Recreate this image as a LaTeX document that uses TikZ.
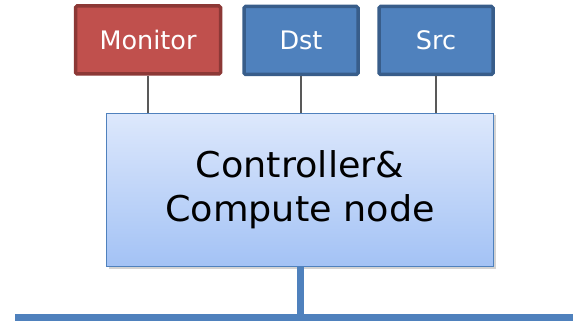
\documentclass[tikz,border=0pt]{standalone}
\usepackage{fontspec}
\setmainfont{DejaVu Sans}
\newfontfamily\widefont[FakeStretch=1.03]{DejaVu Sans}
\usetikzlibrary{shadows}
\definecolor{redfill}{HTML}{C0504D}
\definecolor{redline}{HTML}{8C3836}
\definecolor{bluefill}{HTML}{4F81BD}
\definecolor{blueline}{HTML}{385D8A}
\definecolor{topc}{HTML}{DDE8FC}
\definecolor{botc}{HTML}{A3C2F5}
\definecolor{conn}{HTML}{595959}
\tikzset{
  hostbox/.style={draw, line width=3.5pt, rounded corners=1.5pt, minimum width=#1, minimum height=68pt, inner sep=0pt, text=white, font=\fontsize{25.5}{30}\selectfont, drop shadow={opacity=0.25, shadow xshift=1pt, shadow yshift=-1pt}},
  redbox/.style={hostbox=145pt, fill=redfill, draw=redline},
  bluebox/.style={hostbox=114pt, fill=bluefill, draw=blueline},
  mainbox/.style={draw=bluefill, line width=1.2pt, top color=topc, bottom color=botc, minimum width=387pt, minimum height=153pt, inner sep=0pt, align=center, font=\widefont\fontsize{35.5}{44}\selectfont, drop shadow={opacity=0.35, shadow xshift=2pt, shadow yshift=-2pt}},
  thin/.style={draw=conn, line width=1.3pt},
  bus/.style={draw=bluefill, line width=7pt}
}
\begin{document}
\begin{tikzpicture}[x=1pt,y=-1pt]
\useasboundingbox (0,0) rectangle (573,323);
\node[redbox] (mon) at (148,40) {Monitor};
\node[bluebox] (dst) at (301,40.5) {Dst};
\node[bluebox] (src) at (436,40.5) {Src};
\node[mainbox] (ctl) at (300,190) {Controller\&\\Compute node};
\coordinate (busl) at (15,317);
\coordinate (busr) at (573,317);
\coordinate (busj) at (300,317);
\draw[thin] (mon.south) -- (mon.south |- ctl.north);
\draw[thin] (dst.south) -- (dst.south |- ctl.north);
\draw[thin] (src.south) -- (src.south |- ctl.north);
\draw[bus] (ctl.south) -- (busj);
\draw[bus] (busl) -- (busr);
\end{tikzpicture}
\end{document}
